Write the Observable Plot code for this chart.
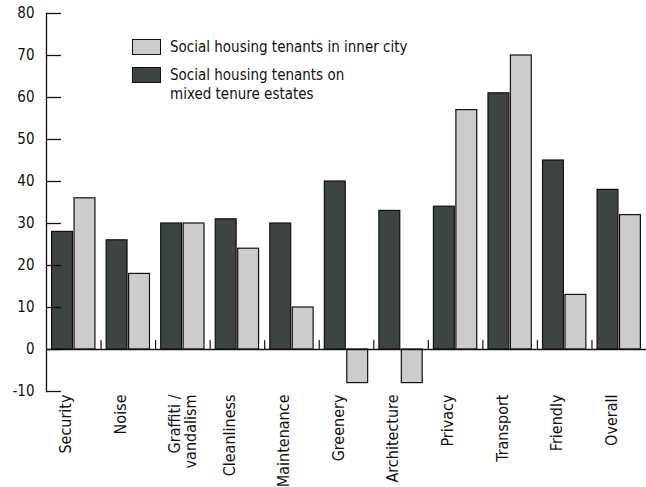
<!DOCTYPE html>
<html><head><meta charset="utf-8">
<script src="https://cdn.jsdelivr.net/npm/d3@7"></script>
<script src="https://cdn.jsdelivr.net/npm/@observablehq/plot@0.6"></script>
<style>
body{margin:0;background:#fff;}
#wrap{position:relative;width:646px;height:487px;font-family:"DejaVu Sans Condensed",sans-serif;color:#111;}
.lg{position:absolute;left:132px;font-size:15px;line-height:19px;}
.sw{position:absolute;left:0;top:0;width:27px;height:14px;border:1.3px solid #111;}
.tx{position:absolute;left:38px;top:0;white-space:nowrap;}
</style></head><body><div id="wrap"></div>
<script>
const categories = ["Security","Noise","Graffiti /\nvandalism","Cleanliness","Maintenance","Greenery","Architecture","Privacy","Transport","Friendly","Overall"];
const seriesKeys = ["mixed","inner"];
const seriesLabels = ["Social housing tenants on\nmixed tenure estates","Social housing tenants in inner city"];
const seriesColors = ["#3c4444","#cccccc"];
const mixedTenure = [28,26,30,31,30,40,33,34,61,45,38];
const innerCity = [36,18,30,24,10,-8,-8,57,70,13,32];
const yTicks = [-10,0,10,20,30,40,50,60,70,80];

const data = categories.flatMap((c,i)=>[
  {cat:c, series:"mixed", value:mixedTenure[i]},
  {cat:c, series:"inner", value:innerCity[i]}
]);

const tickShape = {draw(ctx,l){ctx.moveTo(0,0);ctx.lineTo(0,-l);}};

const chart = Plot.plot({
  width:646, height:487,
  marginLeft:46, marginRight:0, marginTop:13, marginBottom:96,
  style:{fontFamily:'"DejaVu Sans Condensed",sans-serif', fontSize:"15px", color:"#111", background:"#fff"},
  fx:{domain:categories, padding:0, round:false, axis:null},
  x:{domain:seriesKeys, paddingInner:0.07, paddingOuter:0.25, round:false, axis:null},
  y:{domain:[-10,80], axis:null},
  color:{domain:seriesKeys, range:seriesColors},
  marks:[
    Plot.barY(data,{fx:"cat", x:"series", y:"value", fill:"series", stroke:"#111", strokeWidth:1.2}),
    Plot.ruleY([0],{stroke:"#111", strokeWidth:1.3}),
    Plot.frame({anchor:"left", facetAnchor:"left", stroke:"#111", strokeWidth:1.3}),
    Plot.axisY(yTicks,{facetAnchor:"left", tickSize:-15, tickPadding:27, strokeWidth:1.3, fontSize:15, tickFormat:d=>String(d), label:null}),
    Plot.vector(categories.slice(1),{fx:d=>d, frameAnchor:"left", y:()=>0, length:9, rotate:0, anchor:"start", shape:tickShape, stroke:"#111", strokeWidth:1.2}),
    Plot.text(categories,{fx:d=>d, frameAnchor:"bottom", text:d=>d, rotate:-90, textAnchor:"end", lineAnchor:"top", dx:-14, dy:3, lineHeight:1.0, fontSize:16})
  ]
});
const wrap = document.getElementById("wrap");
wrap.appendChild(chart);

// legend (inner city first, then mixed tenure), drawn over the plot area
const order = [1,0];
const tops = [39,67];
order.forEach((k,j)=>{
  const d = document.createElement("div");
  d.className="lg"; d.style.top = tops[j]+"px";
  const sw = document.createElement("div"); sw.className="sw"; sw.style.background = seriesColors[k];
  const tx = document.createElement("div"); tx.className="tx"; tx.style.top="-1px";
  tx.innerHTML = seriesLabels[k].split("\n").join("<br>");
  d.appendChild(sw); d.appendChild(tx); wrap.appendChild(d);
});
</script></body></html>
